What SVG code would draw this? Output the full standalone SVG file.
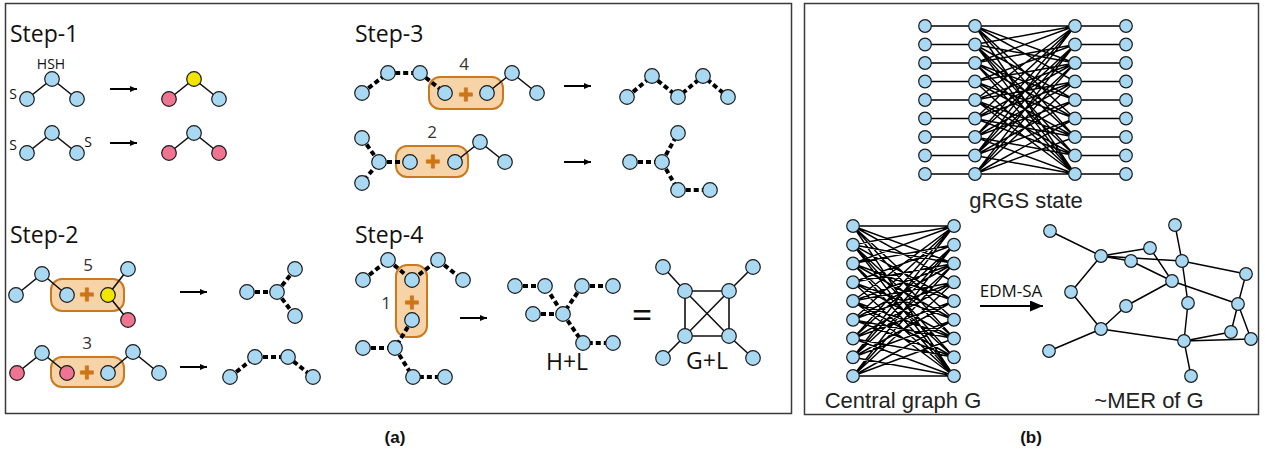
<svg xmlns="http://www.w3.org/2000/svg" width="1265" height="454" viewBox="0 0 1265 454">
  <style>
    .frame { fill: #fff; stroke: #3a3a3a; stroke-width: 1.5; }
    .n { fill: #a8d8f2; stroke: #1a1a1a; stroke-width: 1.2; }
    .pk { fill: #ef7491; }
    .yl { fill: #f2e600; }
    .s { fill: none; stroke: #111; stroke-width: 1.6; }
    .d { fill: none; stroke: #000; stroke-width: 4; stroke-dasharray: 5 3; }
    .b { fill: none; stroke: #000; stroke-width: 1.45; }
    .box { fill: #f7d4a8; stroke: #c97a1e; stroke-width: 2; }
    .plus { fill: #cc7514; stroke: #cc7514; stroke-width: 1; font: bold 26px "Open Sans", "Noto Sans", sans-serif; text-anchor: middle; }
    .step { fill: #111; font: 23px "Open Sans", "Noto Sans", sans-serif; }
    .num { fill: #333; font: 17px "Open Sans", "Noto Sans", sans-serif; text-anchor: middle; }
    .sm { fill: #111; font: 14px "Open Sans", "Noto Sans", sans-serif; text-anchor: middle; }
    .lab { fill: #111; font: 23px "Open Sans", "Noto Sans", sans-serif; text-anchor: middle; }
    .arl { fill: #222; font: 22px "Liberation Sans", Arial, sans-serif; text-anchor: middle; }
    .cap { fill: #111; font: bold 17px "Liberation Sans", Arial, sans-serif; text-anchor: middle; }
    .arrow { stroke: #000; stroke-width: 2; fill: none; marker-end: url(#ah); }
  </style>
  <defs>
    <marker id="ah" markerUnits="userSpaceOnUse" markerWidth="7" markerHeight="7" viewBox="0 0 7 7" refX="7" refY="3.5" orient="auto">
      <path d="M0 0.5 L7 3.5 L0 6.5 Z" fill="#000"/>
    </marker>
    <marker id="ahL" markerUnits="userSpaceOnUse" markerWidth="13" markerHeight="11" viewBox="0 0 13 11" refX="13" refY="5.5" orient="auto">
      <path d="M0 0 L13 5.5 L0 11 Z" fill="#000"/>
    </marker>
  </defs>

  <!-- panel frames -->
  <rect class="frame" x="5.5" y="3.5" width="786" height="410"/>
  <rect class="frame" x="804.5" y="3.5" width="454" height="411"/>

  <!-- merge boxes -->
  <g id="boxes">
    <rect class="box" x="429" y="77" width="74" height="32" rx="11"/>
    <rect class="box" x="396" y="146" width="72" height="31" rx="11"/>
    <rect class="box" x="51" y="279" width="73" height="32" rx="11"/>
    <rect class="box" x="51" y="357" width="73" height="30" rx="11"/>
    <rect class="box" x="396" y="265" width="31" height="72" rx="11"/>
  </g>

  <!-- connectors -->
  <g id="connectors">
    <!-- step 1 -->
    <path class="s" d="M27 99 52 79 77 99M169 99 194 79 219 99M27 153 52 133 77 153M169 153 194 133 219 153"/>
    <!-- step 3 -->
    <path class="d" d="M362 93 388 73 420 73 445 93"/>
    <path class="s" d="M487 93 512 73 537 93"/>
    <path class="d" d="M627 97 652 76 678 97 703 76 728 97"/>
    <path class="d" d="M362 138 379 162 362 183M379 162H410"/>
    <path class="s" d="M455 162 480 142 505 162"/>
    <path class="d" d="M630 162H662M662 162 678 133M662 162 678 190H710"/>
    <!-- step 2 -->
    <path class="s" d="M16 295 42 274 67 295M108 295 128 269M108 295 128 320"/>
    <path class="d" d="M247 292H277M277 292 295 269M277 292 295 316"/>
    <path class="s" d="M17 373 42 353 67 373M108 373 133 352 159 373"/>
    <path class="d" d="M230 377 255 357H288L313 377"/>
    <!-- step 4 -->
    <path class="d" d="M363 280 388 260 412 280 438 260 463 280"/>
    <path class="d" d="M412 320 395 348M363 348H395M395 348 413 377H445"/>
    <path class="d" d="M515 286H545L563 314M582 286 563 314M582 286H613M533 314H563M563 314 583 343H613"/>
    <path class="s" d="M663 267 685 291M753 267 729 291M685 291H729V336H685ZM685 291 729 336M729 291 685 336M685 336 663 358M729 336 753 358"/>
    <!-- step arrows -->
    <line class="arrow" x1="110" y1="89" x2="137" y2="89"/>
    <line class="arrow" x1="110" y1="143" x2="137" y2="143"/>
    <line class="arrow" x1="564" y1="86" x2="591" y2="86"/>
    <line class="arrow" x1="564" y1="162" x2="591" y2="162"/>
    <line class="arrow" x1="180" y1="292" x2="207" y2="292"/>
    <line class="arrow" x1="180" y1="367" x2="207" y2="367"/>
    <line class="arrow" x1="460" y1="318" x2="487" y2="318"/>

    <!-- gRGS state -->
    <path class="b" d="M925 26H975M1075 26H1126M925 44.5H975M1075 44.5H1126M925 63H975M1075 63H1126M925 81.5H975M1075 81.5H1126M925 100H975M1075 100H1126M925 118.5H975M1075 118.5H1126M925 137H975M1075 137H1126M925 155.5H975M1075 155.5H1126M925 174H975M1075 174H1126"/>
    <path class="b" d="M975 26 1075 26M975 26 1075 63M975 26 1075 81.5M975 26 1075 118.5M975 26 1075 137M975 26 1075 174
      M975 44.5 1075 26M975 44.5 1075 63M975 44.5 1075 100M975 44.5 1075 137M975 44.5 1075 155.5M975 44.5 1075 174
      M975 63 1075 26M975 63 1075 44.5M975 63 1075 100M975 63 1075 118.5M975 63 1075 155.5M975 63 1075 174
      M975 81.5 1075 44.5M975 81.5 1075 63M975 81.5 1075 118.5M975 81.5 1075 137M975 81.5 1075 174
      M975 100 1075 26M975 100 1075 63M975 100 1075 81.5M975 100 1075 137M975 100 1075 155.5M975 100 1075 174
      M975 118.5 1075 26M975 118.5 1075 63M975 118.5 1075 81.5M975 118.5 1075 137M975 118.5 1075 155.5
      M975 137 1075 26M975 137 1075 44.5M975 137 1075 81.5M975 137 1075 100M975 137 1075 155.5M975 137 1075 174
      M975 155.5 1075 26M975 155.5 1075 44.5M975 155.5 1075 63M975 155.5 1075 100M975 155.5 1075 118.5M975 155.5 1075 174
      M975 174 1075 44.5M975 174 1075 63M975 174 1075 81.5M975 174 1075 118.5M975 174 1075 137M975 174 1075 174"/>

    <!-- central graph G -->
    <path class="b" d="M853 226 954 226M853 226 954 263.5M853 226 954 282.25M853 226 954 319.75M853 226 954 338.5M853 226 954 376
      M853 244.75 954 226M853 244.75 954 263.5M853 244.75 954 301M853 244.75 954 338.5M853 244.75 954 357.25M853 244.75 954 376
      M853 263.5 954 226M853 263.5 954 244.75M853 263.5 954 301M853 263.5 954 319.75M853 263.5 954 357.25M853 263.5 954 376
      M853 282.25 954 244.75M853 282.25 954 263.5M853 282.25 954 319.75M853 282.25 954 338.5M853 282.25 954 376
      M853 301 954 226M853 301 954 263.5M853 301 954 282.25M853 301 954 338.5M853 301 954 357.25M853 301 954 376
      M853 319.75 954 226M853 319.75 954 263.5M853 319.75 954 282.25M853 319.75 954 338.5M853 319.75 954 357.25
      M853 338.5 954 226M853 338.5 954 244.75M853 338.5 954 282.25M853 338.5 954 301M853 338.5 954 357.25M853 338.5 954 376
      M853 357.25 954 226M853 357.25 954 244.75M853 357.25 954 263.5M853 357.25 954 301M853 357.25 954 319.75M853 357.25 954 376
      M853 376 954 244.75M853 376 954 263.5M853 376 954 282.25M853 376 954 319.75M853 376 954 338.5M853 376 954 376"/>

    <!-- ~MER of G -->
    <path class="b" d="M1050 231 1101 256M1101 256 1150 248M1101 256 1131 261M1101 256 1182 261M1131 261 1172 281M1150 248 1172 281
      M1175 225 1182 261M1182 261 1188 303M1188 303 1184 341M1184 341 1191 376M1182 261 1246 274M1172 281 1238 304
      M1172 281 1126 306M1126 306 1101 329M1101 256 1071 292M1071 292 1101 329M1101 329 1049 351M1101 329 1184 341
      M1246 274 1238 304M1238 304 1231 332M1238 304 1251 339M1184 341 1231 332M1184 341 1251 339"/>
    <line x1="980" y1="306" x2="1043" y2="306" stroke="#000" stroke-width="2" marker-end="url(#ahL)"/>
  </g>

  <!-- nodes: step 1 -->
  <g id="step1">
    <circle id="s1a1" class="n" cx="52" cy="79" r="7.3"/>
    <circle id="s1a2" class="n" cx="27" cy="99" r="7.3"/>
    <circle id="s1a3" class="n" cx="77" cy="99" r="7.3"/>
    <circle id="s1b1" class="n yl" cx="194" cy="79" r="7.3"/>
    <circle id="s1b2" class="n pk" cx="169" cy="99" r="7.3"/>
    <circle id="s1b3" class="n" cx="219" cy="99" r="7.3"/>
    <circle id="s1c1" class="n" cx="52" cy="133" r="7.3"/>
    <circle id="s1c2" class="n" cx="27" cy="153" r="7.3"/>
    <circle id="s1c3" class="n" cx="77" cy="153" r="7.3"/>
    <circle id="s1d1" class="n" cx="194" cy="133" r="7.3"/>
    <circle id="s1d2" class="n pk" cx="169" cy="153" r="7.3"/>
    <circle id="s1d3" class="n pk" cx="219" cy="153" r="7.3"/>
  </g>

  <!-- nodes: step 3 -->
  <g id="step3">
    <circle id="s3a1" class="n" cx="362" cy="93" r="7.3"/>
    <circle id="s3a2" class="n" cx="388" cy="73" r="7.3"/>
    <circle id="s3a3" class="n" cx="420" cy="73" r="7.3"/>
    <circle id="s3a4" class="n" cx="445" cy="93" r="7.3"/>
    <circle id="s3a5" class="n" cx="487" cy="93" r="7.3"/>
    <circle id="s3a6" class="n" cx="512" cy="73" r="7.3"/>
    <circle id="s3a7" class="n" cx="537" cy="93" r="7.3"/>
    <circle id="s3b1" class="n" cx="627" cy="97" r="7.3"/>
    <circle id="s3b2" class="n" cx="652" cy="76" r="7.3"/>
    <circle id="s3b3" class="n" cx="678" cy="97" r="7.3"/>
    <circle id="s3b4" class="n" cx="703" cy="76" r="7.3"/>
    <circle id="s3b5" class="n" cx="728" cy="97" r="7.3"/>
    <circle id="s3c1" class="n" cx="362" cy="138" r="7.3"/>
    <circle id="s3c2" class="n" cx="379" cy="162" r="7.3"/>
    <circle id="s3c3" class="n" cx="362" cy="183" r="7.3"/>
    <circle id="s3c4" class="n" cx="410" cy="162" r="7.3"/>
    <circle id="s3c5" class="n" cx="455" cy="162" r="7.3"/>
    <circle id="s3c6" class="n" cx="480" cy="142" r="7.3"/>
    <circle id="s3c7" class="n" cx="505" cy="162" r="7.3"/>
    <circle id="s3d1" class="n" cx="630" cy="162" r="7.3"/>
    <circle id="s3d2" class="n" cx="662" cy="162" r="7.3"/>
    <circle id="s3d3" class="n" cx="678" cy="133" r="7.3"/>
    <circle id="s3d4" class="n" cx="678" cy="190" r="7.3"/>
    <circle id="s3d5" class="n" cx="710" cy="190" r="7.3"/>
  </g>

  <!-- nodes: step 2 -->
  <g id="step2">
    <circle id="s2a1" class="n" cx="16" cy="295" r="7.3"/>
    <circle id="s2a2" class="n" cx="42" cy="274" r="7.3"/>
    <circle id="s2a3" class="n" cx="67" cy="295" r="7.3"/>
    <circle id="s2a4" class="n yl" cx="108" cy="295" r="7.3"/>
    <circle id="s2a5" class="n" cx="128" cy="269" r="7.3"/>
    <circle id="s2a6" class="n pk" cx="128" cy="320" r="7.3"/>
    <circle id="s2b1" class="n" cx="247" cy="292" r="7.3"/>
    <circle id="s2b2" class="n" cx="277" cy="292" r="7.3"/>
    <circle id="s2b3" class="n" cx="295" cy="269" r="7.3"/>
    <circle id="s2b4" class="n" cx="295" cy="316" r="7.3"/>
    <circle id="s2c1" class="n pk" cx="17" cy="373" r="7.3"/>
    <circle id="s2c2" class="n" cx="42" cy="353" r="7.3"/>
    <circle id="s2c3" class="n pk" cx="67" cy="373" r="7.3"/>
    <circle id="s2c4" class="n" cx="108" cy="373" r="7.3"/>
    <circle id="s2c5" class="n" cx="133" cy="352" r="7.3"/>
    <circle id="s2c6" class="n" cx="159" cy="373" r="7.3"/>
    <circle id="s2d1" class="n" cx="230" cy="377" r="7.3"/>
    <circle id="s2d2" class="n" cx="255" cy="357" r="7.3"/>
    <circle id="s2d3" class="n" cx="288" cy="357" r="7.3"/>
    <circle id="s2d4" class="n" cx="313" cy="377" r="7.3"/>
  </g>

  <!-- nodes: step 4 -->
  <g id="step4">
    <circle id="s4a1" class="n" cx="363" cy="280" r="7.3"/>
    <circle id="s4a2" class="n" cx="388" cy="260" r="7.3"/>
    <circle id="s4a3" class="n" cx="412" cy="280" r="7.3"/>
    <circle id="s4a4" class="n" cx="438" cy="260" r="7.3"/>
    <circle id="s4a5" class="n" cx="463" cy="280" r="7.3"/>
    <circle id="s4a6" class="n" cx="412" cy="320" r="7.3"/>
    <circle id="s4a7" class="n" cx="395" cy="348" r="7.3"/>
    <circle id="s4a8" class="n" cx="363" cy="348" r="7.3"/>
    <circle id="s4a9" class="n" cx="413" cy="377" r="7.3"/>
    <circle id="s4a10" class="n" cx="445" cy="377" r="7.3"/>
    <circle id="s4b1" class="n" cx="515" cy="286" r="7.3"/>
    <circle id="s4b2" class="n" cx="545" cy="286" r="7.3"/>
    <circle id="s4b3" class="n" cx="582" cy="286" r="7.3"/>
    <circle id="s4b4" class="n" cx="613" cy="286" r="7.3"/>
    <circle id="s4b5" class="n" cx="533" cy="314" r="7.3"/>
    <circle id="s4b6" class="n" cx="563" cy="314" r="7.3"/>
    <circle id="s4b7" class="n" cx="583" cy="343" r="7.3"/>
    <circle id="s4b8" class="n" cx="613" cy="343" r="7.3"/>
    <circle id="s4c1" class="n" cx="663" cy="267" r="7.3"/>
    <circle id="s4c2" class="n" cx="753" cy="267" r="7.3"/>
    <circle id="s4c3" class="n" cx="685" cy="291" r="7.3"/>
    <circle id="s4c4" class="n" cx="729" cy="291" r="7.3"/>
    <circle id="s4c5" class="n" cx="685" cy="336" r="7.3"/>
    <circle id="s4c6" class="n" cx="729" cy="336" r="7.3"/>
    <circle id="s4c7" class="n" cx="663" cy="358" r="7.3"/>
    <circle id="s4c8" class="n" cx="753" cy="358" r="7.3"/>
  </g>

  <!-- nodes: gRGS state (4 columns x 9 rows) -->
  <g id="grgs">
    <g id="grgs-c1">
      <circle class="n" cx="925" cy="26" r="6.3"/><circle class="n" cx="925" cy="44.5" r="6.3"/><circle class="n" cx="925" cy="63" r="6.3"/>
      <circle class="n" cx="925" cy="81.5" r="6.3"/><circle class="n" cx="925" cy="100" r="6.3"/><circle class="n" cx="925" cy="118.5" r="6.3"/>
      <circle class="n" cx="925" cy="137" r="6.3"/><circle class="n" cx="925" cy="155.5" r="6.3"/><circle class="n" cx="925" cy="174" r="6.3"/>
    </g>
    <g id="grgs-c2">
      <circle class="n" cx="975" cy="26" r="6.3"/><circle class="n" cx="975" cy="44.5" r="6.3"/><circle class="n" cx="975" cy="63" r="6.3"/>
      <circle class="n" cx="975" cy="81.5" r="6.3"/><circle class="n" cx="975" cy="100" r="6.3"/><circle class="n" cx="975" cy="118.5" r="6.3"/>
      <circle class="n" cx="975" cy="137" r="6.3"/><circle class="n" cx="975" cy="155.5" r="6.3"/><circle class="n" cx="975" cy="174" r="6.3"/>
    </g>
    <g id="grgs-c3">
      <circle class="n" cx="1075" cy="26" r="6.3"/><circle class="n" cx="1075" cy="44.5" r="6.3"/><circle class="n" cx="1075" cy="63" r="6.3"/>
      <circle class="n" cx="1075" cy="81.5" r="6.3"/><circle class="n" cx="1075" cy="100" r="6.3"/><circle class="n" cx="1075" cy="118.5" r="6.3"/>
      <circle class="n" cx="1075" cy="137" r="6.3"/><circle class="n" cx="1075" cy="155.5" r="6.3"/><circle class="n" cx="1075" cy="174" r="6.3"/>
    </g>
    <g id="grgs-c4">
      <circle class="n" cx="1126" cy="26" r="6.3"/><circle class="n" cx="1126" cy="44.5" r="6.3"/><circle class="n" cx="1126" cy="63" r="6.3"/>
      <circle class="n" cx="1126" cy="81.5" r="6.3"/><circle class="n" cx="1126" cy="100" r="6.3"/><circle class="n" cx="1126" cy="118.5" r="6.3"/>
      <circle class="n" cx="1126" cy="137" r="6.3"/><circle class="n" cx="1126" cy="155.5" r="6.3"/><circle class="n" cx="1126" cy="174" r="6.3"/>
    </g>
  </g>

  <!-- nodes: central graph G -->
  <g id="central">
    <g id="central-left">
      <circle class="n" cx="853" cy="226" r="6.3"/><circle class="n" cx="853" cy="244.75" r="6.3"/><circle class="n" cx="853" cy="263.5" r="6.3"/>
      <circle class="n" cx="853" cy="282.25" r="6.3"/><circle class="n" cx="853" cy="301" r="6.3"/><circle class="n" cx="853" cy="319.75" r="6.3"/>
      <circle class="n" cx="853" cy="338.5" r="6.3"/><circle class="n" cx="853" cy="357.25" r="6.3"/><circle class="n" cx="853" cy="376" r="6.3"/>
    </g>
    <g id="central-right">
      <circle class="n" cx="954" cy="226" r="6.3"/><circle class="n" cx="954" cy="244.75" r="6.3"/><circle class="n" cx="954" cy="263.5" r="6.3"/>
      <circle class="n" cx="954" cy="282.25" r="6.3"/><circle class="n" cx="954" cy="301" r="6.3"/><circle class="n" cx="954" cy="319.75" r="6.3"/>
      <circle class="n" cx="954" cy="338.5" r="6.3"/><circle class="n" cx="954" cy="357.25" r="6.3"/><circle class="n" cx="954" cy="376" r="6.3"/>
    </g>
  </g>

  <!-- nodes: ~MER of G -->
  <g id="mer">
    <circle id="mer-a" class="n" cx="1050" cy="231" r="6.3"/>
    <circle id="mer-b" class="n" cx="1101" cy="256" r="6.3"/>
    <circle id="mer-c" class="n" cx="1150" cy="248" r="6.3"/>
    <circle id="mer-d" class="n" cx="1131" cy="261" r="6.3"/>
    <circle id="mer-e" class="n" cx="1175" cy="225" r="6.3"/>
    <circle id="mer-f" class="n" cx="1182" cy="261" r="6.3"/>
    <circle id="mer-g" class="n" cx="1246" cy="274" r="6.3"/>
    <circle id="mer-h" class="n" cx="1172" cy="281" r="6.3"/>
    <circle id="mer-i" class="n" cx="1071" cy="292" r="6.3"/>
    <circle id="mer-j" class="n" cx="1188" cy="303" r="6.3"/>
    <circle id="mer-k" class="n" cx="1238" cy="304" r="6.3"/>
    <circle id="mer-l" class="n" cx="1126" cy="306" r="6.3"/>
    <circle id="mer-m" class="n" cx="1101" cy="329" r="6.3"/>
    <circle id="mer-n" class="n" cx="1231" cy="332" r="6.3"/>
    <circle id="mer-o" class="n" cx="1251" cy="339" r="6.3"/>
    <circle id="mer-p" class="n" cx="1184" cy="341" r="6.3"/>
    <circle id="mer-q" class="n" cx="1049" cy="351" r="6.3"/>
    <circle id="mer-r" class="n" cx="1191" cy="376" r="6.3"/>
  </g>

  <!-- merge markers -->
  <g id="plus-signs">
    <text class="plus" x="466" y="104">+</text>
    <text class="plus" x="433" y="171">+</text>
    <text class="plus" x="87" y="304">+</text>
    <text class="plus" x="87" y="382">+</text>
    <text class="plus" x="412" y="312">+</text>
  </g>

  <!-- labels -->
  <g id="labels">
    <text class="step" x="10" y="42">Step-1</text>
    <text class="step" x="355" y="42">Step-3</text>
    <text class="step" x="10" y="243">Step-2</text>
    <text class="step" x="355" y="243">Step-4</text>
    <text class="sm" x="51" y="69">HSH</text>
    <text class="sm" x="13" y="99">S</text>
    <text class="sm" x="13" y="150">S</text>
    <text class="sm" x="88" y="147">S</text>
    <text class="num" x="464" y="70">4</text>
    <text class="num" x="432" y="138">2</text>
    <text class="num" x="88" y="271">5</text>
    <text class="num" x="87" y="349">3</text>
    <text class="num" x="386" y="309">1</text>
    <text class="lab" x="567" y="370">H+L</text>
    <text class="lab" x="642" y="328" style="font-size:36px">=</text>
    <text class="lab" x="707" y="369">G+L</text>
    <text class="arl" x="1026" y="208">gRGS state</text>
    <text class="arl" x="903" y="408">Central graph G</text>
    <text class="arl" x="1149" y="408">~MER of G</text>
    <text x="1011" y="297" style="fill:#111;font:17px 'Open Sans','Noto Sans',sans-serif;text-anchor:middle">EDM-SA</text>
    <text class="cap" x="395" y="443">(a)</text>
    <text class="cap" x="1031" y="443">(b)</text>
  </g>
</svg>
